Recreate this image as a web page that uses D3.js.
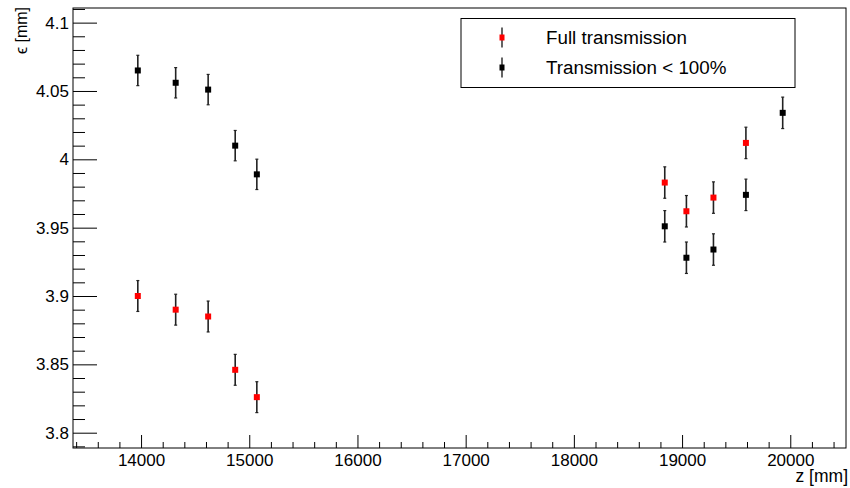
<!DOCTYPE html>
<html>
<head>
<meta charset="utf-8">
<script src="https://cdn.jsdelivr.net/npm/d3@7"></script>
<style>
  body { margin: 0; background: #fff; }
  text { font-family: "Liberation Sans", Arial, sans-serif; fill: #000; }
</style>
</head>
<body>
<div id="chart"></div>
<script>
// points with full transmission (red)
var zFull   = [13970, 14320, 14620, 14870, 15070, 18840, 19040, 19290, 19590];
var epsFull = [3.900, 3.890, 3.885, 3.846, 3.826, 3.983, 3.962, 3.972, 4.012];
var errFull = [0.0113, 0.0113, 0.0113, 0.0113, 0.0113, 0.0115, 0.0115, 0.0115, 0.0115];

// points with transmission < 100% (black)
var zPart   = [13970, 14320, 14620, 14870, 15070, 18840, 19040, 19290, 19590, 19930];
var epsPart = [4.065, 4.056, 4.051, 4.010, 3.989, 3.951, 3.928, 3.934, 3.974, 4.034];
var errPart = [0.0111, 0.0111, 0.0111, 0.0111, 0.0111, 0.0115, 0.0115, 0.0115, 0.0115, 0.0115];

var xMajor = [14000, 15000, 16000, 17000, 18000, 19000, 20000];
var yMajor = [3.8, 3.85, 3.9, 3.95, 4.0, 4.05, 4.1];

var seriesNames = ["Full transmission", "Transmission < 100%"];
var seriesColors = ["#ff0000", "#000000"];

var W = 850, H = 488;
// plot frame (note: "top" is reserved on window, so use pad* names)
var padL = 73, padR = 846, padT = 8, padB = 448;

var svg = d3.select("#chart").append("svg")
    .attr("width", W).attr("height", H);

var x = d3.scaleLinear().domain([13371, 20515]).range([padL, padR]);
var y = d3.scaleLinear().domain([3.7888, 4.1107]).range([padB, padT]);

// minor tick values
var xMinor = d3.range(13400, 20501, 200).filter(function(v) { return v % 1000 !== 0; });
var yMinor = d3.range(379, 412, 1).map(function(v) { return v / 100; })
    .filter(function(v) { return Math.round(v * 100) % 5 !== 0; });

// y axis (ticks pointing inward)
svg.append("g").attr("transform", "translate(" + padL + ",0)")
    .call(d3.axisLeft(y).tickValues(yMinor).tickSize(-12).tickFormat(""))
    .call(function(g) { g.select(".domain").remove(); g.selectAll("line").attr("stroke", "#000"); });
var yAx = svg.append("g").attr("transform", "translate(" + padL + ",0)")
    .call(d3.axisLeft(y).tickValues(yMajor).tickSize(-24).tickPadding(4)
        .tickFormat(function(d) { return String(+d.toFixed(2)); }));
yAx.select(".domain").remove();
yAx.selectAll("line").attr("stroke", "#000");
yAx.selectAll("text").attr("font-size", 17).attr("font-family", "Liberation Sans, Arial, sans-serif");

// x axis
svg.append("g").attr("transform", "translate(0," + padB + ")")
    .call(d3.axisBottom(x).tickValues(xMinor).tickSize(-6).tickFormat(""))
    .call(function(g) { g.select(".domain").remove(); g.selectAll("line").attr("stroke", "#000"); });
var xAx = svg.append("g").attr("transform", "translate(0," + padB + ")")
    .call(d3.axisBottom(x).tickValues(xMajor).tickSize(-13).tickPadding(6).tickFormat(d3.format("d")));
xAx.select(".domain").remove();
xAx.selectAll("line").attr("stroke", "#000");
xAx.selectAll("text").attr("font-size", 17).attr("font-family", "Liberation Sans, Arial, sans-serif");

// frame
svg.append("rect")
    .attr("x", padL).attr("y", padT)
    .attr("width", padR - padL).attr("height", padB - padT)
    .attr("fill", "none").attr("stroke", "#000").attr("stroke-width", 1);

// axis titles
svg.append("text")
    .attr("x", padR + 2).attr("y", 482)
    .attr("text-anchor", "end").attr("font-size", 17.5)
    .text("z [mm]");
svg.append("text")
    .attr("transform", "translate(27,7) rotate(-90)")
    .attr("text-anchor", "end").attr("font-size", 16)
    .text("ϵ [mm]");

function drawSeries(zs, eps, errs, color) {
  var pts = zs.map(function(z, i) { return {z: z, e: eps[i], err: errs[i]}; });
  var g = svg.append("g");
  var bars = g.selectAll(".eb").data(pts).enter().append("g");
  bars.append("line")
      .attr("x1", function(d) { return x(d.z); }).attr("x2", function(d) { return x(d.z); })
      .attr("y1", function(d) { return y(d.e - d.err); }).attr("y2", function(d) { return y(d.e + d.err); })
      .attr("stroke", "#222").attr("stroke-width", 1.6);
  [-1, 1].forEach(function(s) {
    bars.append("line")
        .attr("x1", function(d) { return x(d.z) - 1.5; }).attr("x2", function(d) { return x(d.z) + 1.5; })
        .attr("y1", function(d) { return y(d.e + s * d.err); }).attr("y2", function(d) { return y(d.e + s * d.err); })
        .attr("stroke", "#222").attr("stroke-width", 1.2);
  });
  bars.append("rect")
      .attr("x", function(d) { return x(d.z) - 3; }).attr("y", function(d) { return y(d.e) - 3; })
      .attr("width", 6).attr("height", 6)
      .attr("fill", color);
}

drawSeries(zFull, epsFull, errFull, seriesColors[0]);
drawSeries(zPart, epsPart, errPart, seriesColors[1]);

// legend
var leg = svg.append("g");
leg.append("rect")
    .attr("x", 461).attr("y", 18.5).attr("width", 334).attr("height", 69)
    .attr("fill", "#fff").attr("stroke", "#000").attr("stroke-width", 1);
var rowsY = [37.5, 67.5];
seriesNames.forEach(function(name, i) {
  var cy = rowsY[i];
  leg.append("line")
      .attr("x1", 502).attr("x2", 502).attr("y1", cy - 10).attr("y2", cy + 10)
      .attr("stroke", "#222").attr("stroke-width", 1.4);
  leg.append("rect")
      .attr("x", 499.5).attr("y", cy - 3).attr("width", 5).attr("height", 6)
      .attr("fill", seriesColors[i]);
  leg.append("text")
      .attr("x", 546).attr("y", cy).attr("dy", "0.36em")
      .attr("font-size", 18.8)
      .text(name);
});
</script>
</body>
</html>
